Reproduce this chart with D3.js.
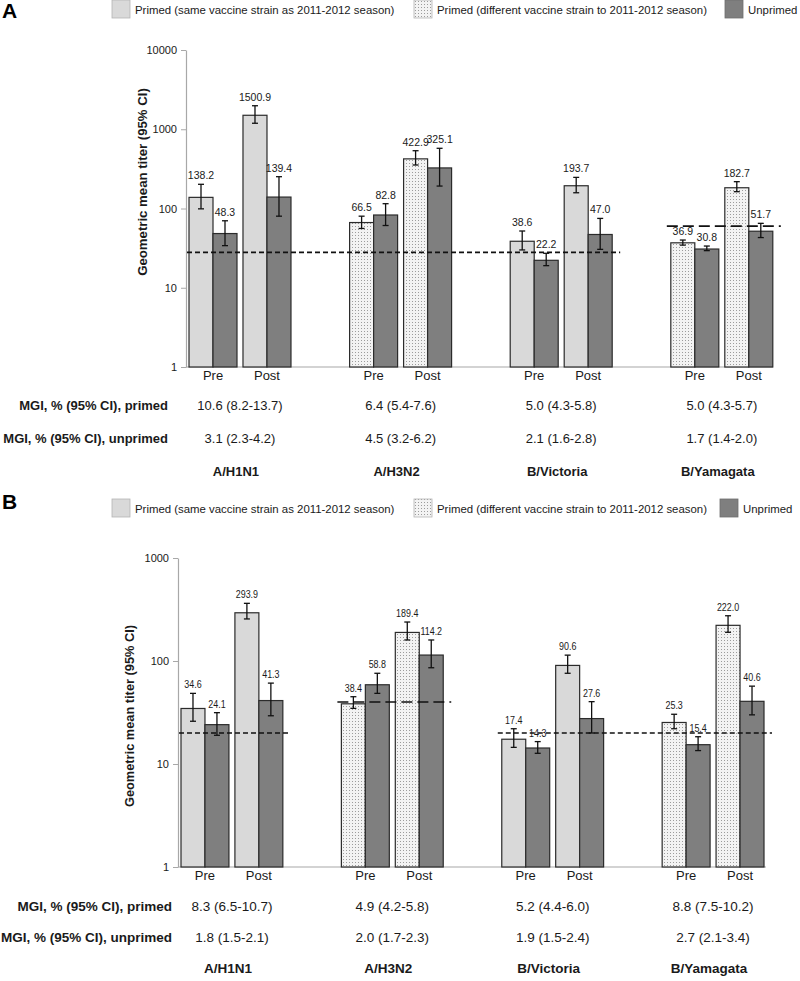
<!DOCTYPE html>
<html><head><meta charset="utf-8">
<script src="https://cdn.jsdelivr.net/npm/d3@7"></script>
<style>
body{margin:0;background:#fff}
text{font-family:"Liberation Sans",Arial,Helvetica,sans-serif;fill:#1a1a1a}
</style>
</head><body>
<svg id="c" width="800" height="981"></svg>
<script>
// ---------- DATA ----------
const strains = ['A/H1N1','A/H3N2','B/Victoria','B/Yamagata'];
const phases = ['Pre','Post'];
const seriesKeys = ['primed','unprimed'];
const legendLabels = ['Primed (same vaccine strain as 2011-2012 season)','Primed (different vaccine strain to 2011-2012 season)','Unprimed'];
const primedType = ['same','different','same','different'];
const rowLabels = ['MGI, % (95% CI), primed','MGI, % (95% CI), unprimed'];

// Panel A : [GMT, lower 95% CI, upper 95% CI]
const aPrimedPre    = [[138.2,99,202],[66.5,56,80],[38.6,30,52],[36.9,34.5,40]];
const aUnprimedPre  = [[48.3,34,70],[82.8,61,115],[22.2,19,27.2],[30.8,29.4,33.6]];
const aPrimedPost   = [[1500.9,1190,1980],[422.9,354,536],[193.7,158,247],[182.7,163,218]];
const aUnprimedPost = [[139.4,80,252],[325.1,192,575],[47.0,30.5,75],[51.7,43,65]];
const aMgiPrimed    = ['10.6 (8.2-13.7)','6.4 (5.4-7.6)','5.0 (4.3-5.8)','5.0 (4.3-5.7)'];
const aMgiUnprimed  = ['3.1 (2.3-4.2)','4.5 (3.2-6.2)','2.1 (1.6-2.8)','1.7 (1.4-2.0)'];
const aTicks = [1,10,100,1000,10000];
// [titer, first strain index, last strain index, dash style]
const aThresholds = [[28,0,2,'short'],[60,3,3,'long']];

// Panel B
const bPrimedPre    = [[34.6,26,48.5],[38.4,34.7,45],[17.4,14.5,22],[25.3,22,30.4]];
const bUnprimedPre  = [[24.1,19,31.5],[58.8,48.5,76],[14.3,12.7,16.5],[15.4,13.5,18.4]];
const bPrimedPost   = [[293.9,256,363],[189.4,160,239],[90.6,76,114],[222.0,190,275]];
const bUnprimedPost = [[41.3,29.4,61],[114.2,86,160],[27.6,20,40.3],[40.6,30,57]];
const bMgiPrimed    = ['8.3 (6.5-10.7)','4.9 (4.2-5.8)','5.2 (4.4-6.0)','8.8 (7.5-10.2)'];
const bMgiUnprimed  = ['1.8 (1.5-2.1)','2.0 (1.7-2.3)','1.9 (1.5-2.4)','2.7 (2.1-3.4)'];
const bTicks = [1,10,100,1000];
const bThresholds = [[20,0,0,'short'],[40,1,1,'long'],[20,2,3,'short']];

const yTitle = 'Geometric mean titer  (95% CI)';

// ---------- LAYOUT ----------
const svg = d3.select('#c');
const defs = svg.append('defs');
const pat = defs.append('pattern').attr('id','dots').attr('patternUnits','userSpaceOnUse')
  .attr('width',3).attr('height',3);
pat.append('rect').attr('width',3).attr('height',3).attr('fill','#f3f3f3');
pat.append('rect').attr('x',1).attr('y',1).attr('width',1).attr('height',1).attr('fill','#9c9c9c');

const colors = {same:'#d9d9d9', different:'url(#dots)', unprimed:'#7f7f7f'};

const panels = [
  {letter:'A', data:{primedPre:aPrimedPre, unprimedPre:aUnprimedPre, primedPost:aPrimedPost, unprimedPost:aUnprimedPost,
     mgiP:aMgiPrimed, mgiU:aMgiUnprimed, ticks:aTicks, thr:aThresholds},
   top:50, bottom:367, axisX:186, xStart:189, xEnd:772.8, axisEnd:773,
   titleX:147, titleY:182, letterY:18, legendY:0, legendBoxes:[112,414,725],
   rowLabelX:168, rowY:[410,443,476], phaseY:380, rowFont:13, labelFont:10.5, labelSX:1, titleFont:13.2},
  {letter:'B', data:{primedPre:bPrimedPre, unprimedPre:bUnprimedPre, primedPost:bPrimedPost, unprimedPost:bUnprimedPost,
     mgiP:bMgiPrimed, mgiU:bMgiUnprimed, ticks:bTicks, thr:bThresholds},
   top:558, bottom:867, axisX:178, xStart:181, xEnd:764, axisEnd:766,
   titleX:134, titleY:716, letterY:509, legendY:499, legendBoxes:[112,414,720],
   rowLabelX:172, rowY:[911,942,973], phaseY:880, rowFont:13.5, labelFont:10.5, labelSX:0.85, titleFont:12.8}
];

panels.forEach(cfg => drawPanel(cfg));

function drawPanel(cfg){
  const d = cfg.data;
  const g = svg.append('g');

  // panel letter
  g.append('text').attr('x',2).attr('y',cfg.letterY).attr('font-size',21).attr('font-weight','bold')
    .style('fill','#000').text(cfg.letter);

  // legend
  legendLabels.forEach((lab,i) => {
    const bx = cfg.legendBoxes[i];
    const fill = i===0 ? colors.same : i===1 ? colors.different : colors.unprimed;
    g.append('rect').attr('x',bx).attr('y',cfg.legendY).attr('width',18).attr('height',18)
      .attr('fill',fill).attr('stroke', i===2 ? '#6e6e6e' : '#b5b5b5').attr('stroke-width',0.8);
    g.append('text').attr('x',bx+23).attr('y',cfg.legendY+13.5).attr('font-size',11.4).text(lab);
  });

  // scales
  const y = d3.scaleLog().domain([d.ticks[0], d.ticks[d.ticks.length-1]]).range([cfg.bottom, cfg.top]);
  const x0 = d3.scaleBand().domain(strains).range([cfg.xStart, cfg.xEnd]).paddingInner(0.365).paddingOuter(0);
  const x1 = d3.scaleBand().domain(phases).range([0, x0.bandwidth()]).paddingInner(0.111).paddingOuter(0);
  const x2 = d3.scaleBand().domain(seriesKeys).range([0, x1.bandwidth()]);

  // y axis
  const ax = g.append('g').attr('transform',`translate(${cfg.axisX},0)`)
    .call(d3.axisLeft(y).tickValues(d.ticks).tickFormat(d3.format('d')).tickSize(5).tickSizeOuter(0).tickPadding(4));
  ax.select('.domain').attr('stroke','#a8a8a8').attr('stroke-width',1.2);
  ax.selectAll('.tick line').attr('stroke','#a8a8a8');
  ax.selectAll('.tick text').attr('font-size',11).attr('font-family','"Liberation Sans",Arial,sans-serif').style('fill','#1a1a1a');

  // x axis baseline
  g.append('line').attr('x1',cfg.axisX).attr('x2',cfg.axisEnd).attr('y1',cfg.bottom).attr('y2',cfg.bottom)
    .attr('stroke','#a8a8a8').attr('stroke-width',1.2);

  // y title
  g.append('text').attr('transform',`translate(${cfg.titleX},${cfg.titleY}) rotate(-90)`)
    .attr('text-anchor','middle').attr('font-size',cfg.titleFont).attr('font-weight','bold').text(yTitle);

  // bars
  const recs = [];
  strains.forEach((s,i) => {
    phases.forEach(p => {
      seriesKeys.forEach(k => {
        const v = d[k+p][i];
        recs.push({strain:s, i, phase:p, key:k, v:v[0], lo:v[1], hi:v[2]});
      });
    });
  });
  const bx = r => x0(r.strain) + x1(r.phase) + x2(r.key);
  const bw = x2.bandwidth();

  g.selectAll('rect.bar').data(recs).enter().append('rect').attr('class','bar')
    .attr('x', bx).attr('y', r => y(r.v)).attr('width', bw).attr('height', r => cfg.bottom - y(r.v))
    .attr('fill', r => r.key==='unprimed' ? colors.unprimed : colors[primedType[r.i]])
    .attr('stroke','#2b2b2b').attr('stroke-width',1.2);

  // error bars
  const eb = g.selectAll('g.err').data(recs).enter().append('g').attr('class','err')
    .attr('stroke','#111').attr('stroke-width',1.3);
  eb.append('line').attr('x1', r => bx(r)+bw/2).attr('x2', r => bx(r)+bw/2)
    .attr('y1', r => y(r.lo)).attr('y2', r => y(r.hi));
  eb.append('line').attr('x1', r => bx(r)+bw/2-3).attr('x2', r => bx(r)+bw/2+3)
    .attr('y1', r => y(r.hi)).attr('y2', r => y(r.hi));
  eb.append('line').attr('x1', r => bx(r)+bw/2-3).attr('x2', r => bx(r)+bw/2+3)
    .attr('y1', r => y(r.lo)).attr('y2', r => y(r.lo));

  // threshold lines
  d.thr.forEach(t => {
    const xa = x0(strains[t[1]]) - 4;
    const xb = x0(strains[t[2]]) + x0.bandwidth() + 8;
    g.append('line').attr('x1', t[1]===0 ? cfg.axisX+1 : xa).attr('x2', xb)
      .attr('y1', y(t[0])).attr('y2', y(t[0]))
      .attr('stroke','#111').attr('stroke-width',1.7)
      .attr('stroke-dasharray', t[3]==='short' ? '5,3' : '11,5');
  });

  // value labels
  g.selectAll('text.val').data(recs).enter().append('text').attr('class','val')
    .attr('transform', r => `translate(${bx(r)+bw/2},${y(r.hi)-5}) scale(${cfg.labelSX},1)`)
    .attr('text-anchor','middle').attr('font-size',cfg.labelFont).text(r => r.v.toFixed(1));

  // phase labels
  strains.forEach(s => {
    phases.forEach(p => {
      g.append('text').attr('x', x0(s)+x1(p)+x1.bandwidth()/2).attr('y', cfg.phaseY)
        .attr('text-anchor','middle').attr('font-size',13).text(p);
    });
  });

  // MGI rows
  [d.mgiP, d.mgiU].forEach((row,ri) => {
    g.append('text').attr('x',cfg.rowLabelX).attr('y',cfg.rowY[ri]).attr('text-anchor','end')
      .attr('font-size',cfg.rowFont).attr('font-weight','bold').text(rowLabels[ri]);
    row.forEach((txt,i) => {
      g.append('text').attr('x', x0(strains[i]) + x0.bandwidth()/2).attr('y', cfg.rowY[ri])
        .attr('text-anchor','middle').attr('font-size',cfg.rowFont).text(txt);
    });
  });
  strains.forEach(s => {
    g.append('text').attr('x', x0(s) + x0.bandwidth()/2 - 4).attr('y', cfg.rowY[2])
      .attr('text-anchor','middle').attr('font-size',cfg.rowFont).attr('font-weight','bold').text(s);
  });
}
</script>
</body></html>
